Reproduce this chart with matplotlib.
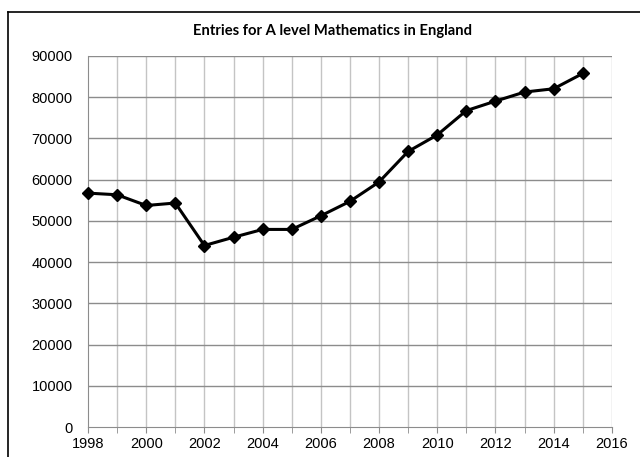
import matplotlib
matplotlib.use("Agg")
import matplotlib.pyplot as plt
from matplotlib.lines import Line2D

years = [1998, 1999, 2000, 2001, 2002, 2003, 2004, 2005, 2006, 2007,
         2008, 2009, 2010, 2011, 2012, 2013, 2014, 2015]
entries = [56700, 56300, 53700, 54300, 44000, 46000, 47900, 47900, 51200, 54700,
           59400, 66800, 70800, 76700, 79000, 81200, 82000, 85700]
title = "Entries for A level Mathematics in England"

fig = plt.figure(figsize=(6.4, 4.57), dpi=100)
ax = fig.add_axes([0.1375, 0.0656, 0.8185, 0.8124])

ax.set_xlim(1998, 2016)
ax.set_ylim(0, 90000)
ax.set_xticks(range(1998, 2017, 2))
ax.set_xticks(range(1998, 2017, 1), minor=True)
ax.set_yticks(range(0, 90001, 10000))

for yr in range(1999, 2017):
    ax.axvline(yr, color="#c4c4c4", lw=1.0, zorder=1)
for v in range(10000, 90001, 10000):
    ax.axhline(v, color="#8c8c8c", lw=1.0, zorder=1)

ax.plot(years, entries, color="black", lw=2.2, marker="D", markersize=6.5, zorder=3,
        clip_on=False)

for s in ["top", "right"]:
    ax.spines[s].set_visible(False)
ax.spines["left"].set_color("#8c8c8c")
ax.spines["bottom"].set_color("#8c8c8c")
ax.tick_params(axis="x", which="both", direction="out", length=4, color="#8c8c8c",
               labelsize=10.5, pad=3.5)
ax.tick_params(axis="y", length=0, labelsize=10.5, pad=11)
for lbl in ax.get_xticklabels() + ax.get_yticklabels():
    lbl.set_fontfamily("Liberation Sans")

fig.text(0.5 + 0.02, 1 - 31/457, title, ha="center", va="center",
         fontsize=10.6, fontweight="bold", family="Lato")

fig.add_artist(Line2D([8/640, 1.0], [1 - 11.5/457, 1 - 11.5/457], color="black", lw=1.2,
                      transform=fig.transFigure))
fig.add_artist(Line2D([8/640, 8/640], [0, 1 - 11.5/457], color="black", lw=1.2,
                      transform=fig.transFigure))

fig.savefig("out.png", dpi=100)
